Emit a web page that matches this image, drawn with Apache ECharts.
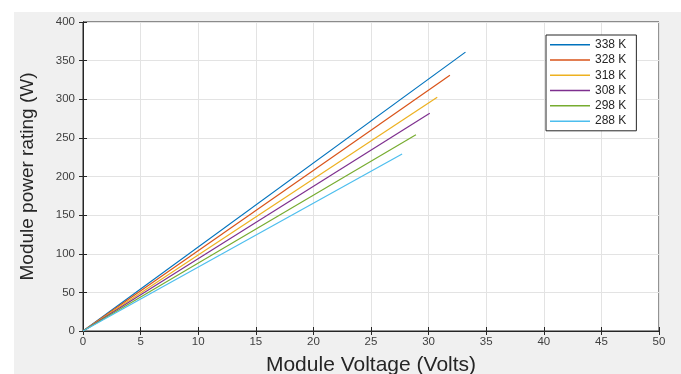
<!DOCTYPE html>
<html><head><meta charset="utf-8">
<script src="https://cdn.jsdelivr.net/npm/echarts@6/dist/echarts.min.js"></script>
<style>html,body{margin:0;padding:0;background:#fff}#c{width:681px;height:374px}</style>
</head><body><div id="c"></div>
<script>
const seriesNames = ['338 K','328 K','318 K','308 K','298 K','288 K'];
const colors = ['#0072BD','#D95319','#EDB120','#7E2F8E','#77AC30','#4DBEEE'];
// each series: list of [voltage, power] points
const s338 = [[0,0],[33.2,361]];
const s328 = [[0,0],[31.85,331]];
const s318 = [[0,0],[30.75,302.5]];
const s308 = [[0,0],[30.1,282]];
const s298 = [[0,0],[28.9,254]];
const s288 = [[0,0],[27.7,229]];
const allData = [s338,s328,s318,s308,s298,s288];
const xTicks = [0,5,10,15,20,25,30,35,40,45,50];
const yTicks = [0,50,100,150,200,250,300,350,400];

const font = 'Liberation Sans, Arial, sans-serif';
const chart = echarts.init(document.getElementById('c'));
const axisLine = {show:true, lineStyle:{color:'#262626', width:1}};
chart.setOption({
  animation:false,
  backgroundColor:'#fff',
  graphic:[{type:'rect', z:-10, shape:{x:14,y:12,width:667,height:362}, style:{fill:'#f0f0f0'}}],
  grid:{left:83, right:22, top:22, bottom:43, outerBoundsMode:'none', containLabel:false,
        show:true, backgroundColor:'#fff', borderColor:'#262626', borderWidth:1},
  legend:{
    orient:'vertical', left:546, top:35, width:91,
    backgroundColor:'#fff', borderColor:'#262626', borderWidth:1,
    padding:[3,10,3,4], itemWidth:40, itemHeight:1.5, itemGap:2,
    icon:'rect',
    textStyle:{fontFamily:font, fontSize:12, color:'#262626', lineHeight:13.3},
    data: seriesNames
  },
  xAxis:[{
    type:'value', min:xTicks[0], max:xTicks[xTicks.length-1], interval:5,
    name:'Module Voltage (Volts)', nameLocation:'middle', nameGap:24,
    nameTextStyle:{fontFamily:font, fontSize:21, color:'#262626'},
    axisLine:axisLine, axisTick:{show:true, inside:true, length:4, lineStyle:{color:'#262626'}},
    axisLabel:{fontFamily:font, fontSize:11.5, color:'#404040', margin:5},
    splitLine:{show:true, lineStyle:{color:'#e3e3e3', width:1}}
  },{
    type:'value', position:'top', min:0, max:50, interval:5,
    axisLine:axisLine, axisTick:{show:true, inside:true, length:4, lineStyle:{color:'#262626'}},
    axisLabel:{show:false}, splitLine:{show:false}
  }],
  yAxis:[{
    type:'value', min:yTicks[0], max:yTicks[yTicks.length-1], interval:50,
    name:'Module power rating (W)', nameLocation:'middle', nameGap:46, nameRotate:90,
    nameTextStyle:{fontFamily:font, fontSize:19, color:'#262626'},
    axisLine:axisLine, axisTick:{show:true, inside:true, length:4, lineStyle:{color:'#262626'}},
    axisLabel:{fontFamily:font, fontSize:11.5, color:'#404040', margin:8},
    splitLine:{show:true, lineStyle:{color:'#e3e3e3', width:1}}
  },{
    type:'value', position:'right', min:0, max:400, interval:50,
    axisLine:axisLine, axisTick:{show:true, inside:true, length:4, lineStyle:{color:'#262626'}},
    axisLabel:{show:false}, splitLine:{show:false}
  }],
  series: allData.map((d,i)=>({
    name:seriesNames[i], type:'line', data:d, symbol:'none',
    xAxisIndex:0, yAxisIndex:0,
    lineStyle:{color:colors[i], width:1.2}, itemStyle:{color:colors[i]}
  }))
});
</script></body></html>
